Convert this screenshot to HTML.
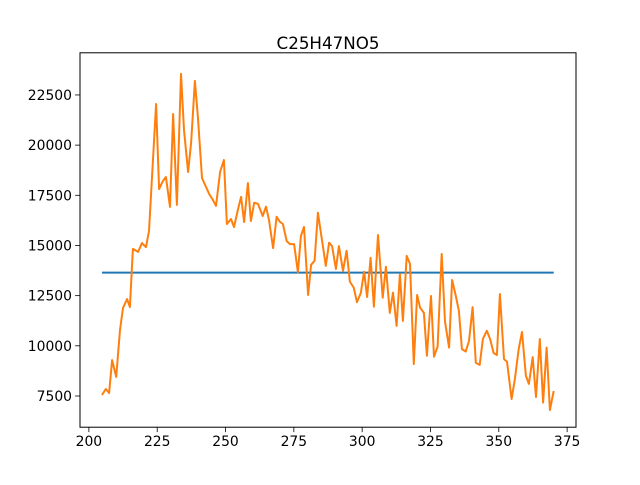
<!DOCTYPE html>
<html><head><meta charset="utf-8"><style>
body{margin:0;background:#fff;}
svg text{font-family:"DejaVu Sans","Liberation Sans",sans-serif;}
</style></head><body>
<svg id="chart" width="640" height="480" xmlns="http://www.w3.org/2000/svg">
<rect width="640" height="480" fill="#fff"/>
<text x="328" y="49" font-size="16.7" text-anchor="middle">C25H47NO5</text>
<g id="plot"></g>
</svg>
<script>
const xValues=[204.8,206.2,207.4,208.5,210.0,211.4,212.5,214.0,215.0,216.1,218.0,219.4,220.9,222.0,224.6,225.7,227.1,228.2,229.7,230.8,232.2,233.7,234.8,236.3,237.4,238.8,239.9,241.4,242.9,244.0,245.4,246.5,248.0,249.4,250.5,252.0,253.1,254.6,255.7,256.8,258.2,259.3,260.5,261.9,263.6,264.8,265.9,267.4,268.7,269.9,271.0,272.4,273.6,275.1,276.5,277.6,278.7,280.2,281.3,282.6,283.8,285.3,286.7,287.9,289.0,290.4,291.5,293.0,294.3,295.5,296.9,298.1,299.5,300.7,301.8,303.1,304.3,305.8,307.5,308.7,310.1,311.3,312.6,313.8,314.9,316.3,317.5,318.9,320.1,321.2,322.6,323.7,325.2,326.3,327.6,329.1,330.3,331.8,332.9,334.2,335.4,336.5,337.9,339.1,340.4,341.6,343.0,344.2,345.6,346.8,348.1,349.3,350.4,351.9,353.0,354.7,355.9,357.3,358.5,359.9,361.0,362.4,363.6,365.0,366.2,367.5,368.7,370.1];
const yValues=[7550,7850,7650,9290,8450,10790,11890,12330,11930,14830,14680,15120,14920,15720,22050,17810,18210,18410,16920,21550,17020,23550,20750,18660,20110,23200,21400,18360,17910,17570,17270,16970,18660,19260,16070,16320,15920,16820,17420,16170,18110,16220,17130,17070,16470,16930,16270,14870,16430,16180,16070,15220,15070,15070,13670,15470,15920,12530,14030,14240,16630,15270,13980,15140,14970,13830,14970,13740,14740,13200,12900,12180,12630,13690,12430,14380,11950,15520,12400,13940,11640,12650,10990,13580,11240,14480,14080,9090,12530,11900,11640,9510,12480,9460,9960,14580,11200,9910,13280,12530,11740,9840,9710,10240,11930,9160,9050,10340,10750,10340,9640,9540,12580,9340,9210,7350,8350,9840,10690,8500,8100,9440,7450,10340,7170,9910,6800,7750];
const meanValue=13650;
const xTicks=[200,225,250,275,300,325,350,375];
const yTicks=[7500,10000,12500,15000,17500,20000,22500];

const L=80,R=576,T=52.8,B=427.2;
const xmin=196.75,xmax=378.25,ymin=5945,ymax=24600;
const sx=v=>L+(v-xmin)/(xmax-xmin)*(R-L);
const sy=v=>B-(v-ymin)/(ymax-ymin)*(B-T);
const NS="http://www.w3.org/2000/svg";
const g=document.getElementById('plot');
function mk(t,a){const e=document.createElementNS(NS,t);for(const k in a)e.setAttribute(k,a[k]);g.appendChild(e);return e;}

const mx0=Math.min(...xValues),mx1=Math.max(...xValues);
const ml=mk('line',{x1:sx(mx0),x2:sx(mx1),y1:sy(meanValue),y2:sy(meanValue),stroke:'#1f77b4','stroke-width':2});



const pts=xValues.map((x,i)=>sx(x).toFixed(1)+','+sy(yValues[i]).toFixed(1)).join(' ');
const pl=mk('polyline',{points:pts,fill:'none',stroke:'#ff7f0e','stroke-width':2,'stroke-linejoin':'round'});



const fr=mk('rect',{x:L,y:T,width:R-L,height:B-T,fill:'none',stroke:'#000','stroke-width':1});



xTicks.forEach(v=>{
  const x=sx(v);
  const tk=mk('line',{x1:x,x2:x,y1:B,y2:B+4.9,stroke:'#000','stroke-width':0.8});
  
  
  const t=mk('text',{x:x,y:B+19,'font-size':13.9,'text-anchor':'middle'});
  t.textContent=v;
  
  
});
yTicks.forEach(v=>{
  const y=sy(v);
  const tk=mk('line',{x1:L-4.9,x2:L,y1:y,y2:y,stroke:'#000','stroke-width':0.8});
  
  
  const t=mk('text',{x:L-8,y:y+5,'font-size':13.9,'text-anchor':'end'});
  t.textContent=v;
  
  
});
</script>
</body></html>
